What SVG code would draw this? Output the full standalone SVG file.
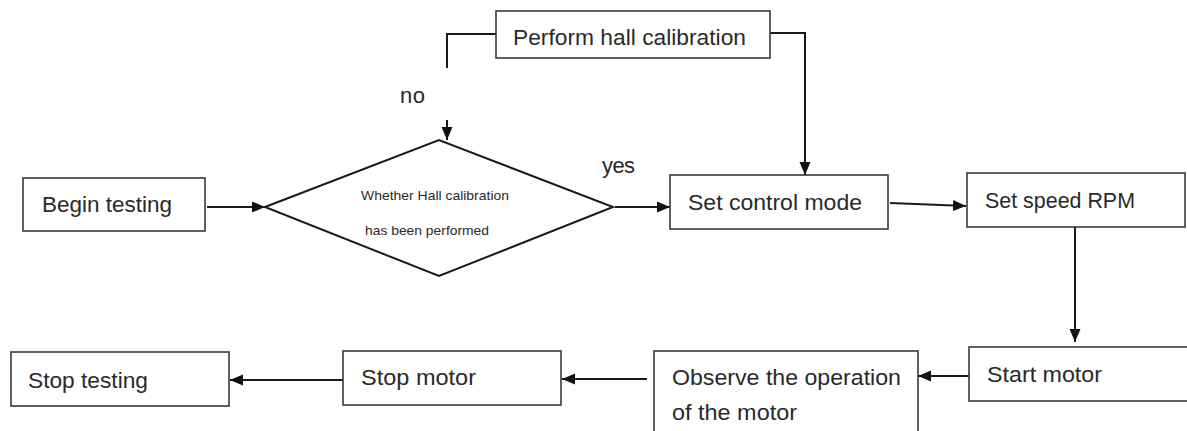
<svg xmlns="http://www.w3.org/2000/svg" width="1187" height="431" viewBox="0 0 1187 431">
<style>
  .box { fill: #ffffff; stroke: #3a3a3a; stroke-width: 1.6; }
  .t { font-family: "Liberation Sans", Arial, sans-serif; font-size: 22px; fill: #2a2a2a; }
  .s { font-family: "Liberation Sans", Arial, sans-serif; font-size: 13px; fill: #2a2a2a; }
  .c { fill: none; stroke: #1a1a1a; stroke-width: 2; }
</style>
<defs>
  <marker id="arr" markerUnits="userSpaceOnUse" markerWidth="14" markerHeight="12" viewBox="0 0 14 12" refX="13" refY="6" orient="auto">
    <path d="M0,0.5 L13,6 L0,11.5 Z" fill="#111"/>
  </marker>
</defs>
<rect width="1187" height="431" fill="#ffffff"/>

<g id="connectors">
  <line class="c" x1="207" y1="207" x2="265" y2="207" marker-end="url(#arr)"/>
  <line class="c" x1="615" y1="207" x2="670" y2="207" marker-end="url(#arr)"/>
  <polyline class="c" points="496,34 447,34 447,68"/>
  <line class="c" x1="447" y1="120" x2="447" y2="140" marker-end="url(#arr)"/>
  <polyline class="c" points="770,33 805,33 805,175" marker-end="url(#arr)"/>
  <line class="c" x1="890" y1="203" x2="966" y2="206" marker-end="url(#arr)"/>
  <line class="c" x1="1075" y1="227" x2="1075" y2="342" marker-end="url(#arr)"/>
  <line class="c" x1="969" y1="376" x2="918" y2="376" marker-end="url(#arr)"/>
  <line class="c" x1="647" y1="379" x2="562" y2="379" marker-end="url(#arr)"/>
  <line class="c" x1="343" y1="380" x2="230" y2="380" marker-end="url(#arr)"/>
  <text class="t" x="400" y="103" textLength="25">no</text>
  <text class="t" x="602" y="173" textLength="33">yes</text>
</g>

<g id="begin">
  <rect class="box" x="23" y="178" width="182" height="53"/>
  <text class="t" x="42" y="212" textLength="130" lengthAdjust="spacingAndGlyphs">Begin testing</text>
</g>

<g id="decision">
  <polygon class="box" points="265,207 439,140 613,207 439,276" style="stroke:#1a1a1a;stroke-width:2"/>
  <text class="s" x="361" y="200" textLength="148" lengthAdjust="spacingAndGlyphs">Whether Hall calibration</text>
  <text class="s" x="365" y="235" textLength="124" lengthAdjust="spacingAndGlyphs">has been performed</text>
</g>

<g id="calibrate">
  <rect class="box" x="496" y="11" width="274" height="47"/>
  <text class="t" x="513" y="45" textLength="233" lengthAdjust="spacingAndGlyphs">Perform hall calibration</text>
</g>

<g id="control-mode">
  <rect class="box" x="670" y="175" width="218" height="54"/>
  <text class="t" x="688" y="210" textLength="174" lengthAdjust="spacingAndGlyphs">Set control mode</text>
</g>

<g id="speed">
  <rect class="box" x="967" y="173" width="218" height="54"/>
  <text class="t" x="985" y="208" textLength="150" lengthAdjust="spacingAndGlyphs">Set speed RPM</text>
</g>

<g id="start-motor">
  <rect class="box" x="969" y="347" width="230" height="54"/>
  <text class="t" x="987" y="382" textLength="115" lengthAdjust="spacingAndGlyphs">Start motor</text>
</g>

<g id="observe">
  <rect class="box" x="654" y="351" width="264" height="95"/>
  <text class="t" x="672" y="385" textLength="229" lengthAdjust="spacingAndGlyphs">Observe the operation</text>
  <text class="t" x="672" y="420" textLength="125" lengthAdjust="spacingAndGlyphs">of the motor</text>
</g>

<g id="stop-motor">
  <rect class="box" x="343" y="351" width="218" height="54"/>
  <text class="t" x="361" y="385" textLength="115" lengthAdjust="spacingAndGlyphs">Stop motor</text>
</g>

<g id="stop-testing">
  <rect class="box" x="11" y="352" width="218" height="54"/>
  <text class="t" x="28" y="388" textLength="120" lengthAdjust="spacingAndGlyphs">Stop testing</text>
</g>
</svg>
